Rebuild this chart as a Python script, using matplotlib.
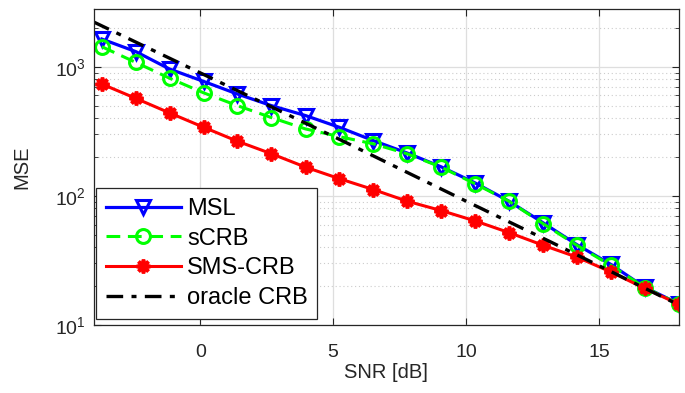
import matplotlib
matplotlib.use('Agg')
import matplotlib.pyplot as plt
from matplotlib.ticker import LogLocator, NullFormatter

plt.rcParams['font.family'] = ['Liberation Sans', 'DejaVu Sans']
plt.rcParams['mathtext.default'] = 'regular'

# SNR grid of the estimator / bound curves (dB)
snr = [-3.7, -2.42, -1.15, 0.13, 1.4, 2.68, 3.96, 5.23, 6.51,
       7.78, 9.06, 10.34, 11.61, 12.89, 14.16, 15.44, 16.72, 18.0]

msl = [1640, 1310, 960, 770, 615, 500, 419, 340, 268,
       215, 168, 126, 91, 62, 42, 29.5, 19.6, 14.6]
scrb = [1430, 1080, 815, 628, 500, 404, 330, 288, 253,
        212, 167, 124, 91, 61, 41.5, 29, 19.5, 14.6]
smscrb = [735, 569, 439, 340, 265, 212, 167, 136, 112,
          91, 77, 64, 52, 41.5, 33.6, 25.8, 19.2, 14.5]

# oracle CRB, read at a few points along the line
snr_oracle = [-4.0, 5.27, 10.0, 13.18, 18.0]
oracle = [2220, 272, 91, 44, 14.3]

fig = plt.figure(figsize=(6.85, 3.93), dpi=100)
ax = fig.add_axes([0.137, 0.173, 0.854, 0.804])

ax.plot(snr, msl, '-', color='blue', lw=2.3, marker='v', ms=10.5,
        mfc='none', mew=2.2, label='MSL')
ax.plot(snr, scrb, '--', color=(0, 1, 0), lw=2.2, marker='o', ms=10,
        mfc='none', mew=2.2, label='sCRB', dashes=(4.5, 2.5))
ax.plot(snr, smscrb, '-', color='red', lw=2.2, marker=(8, 2, 0), ms=10,
        mew=2.6, label='SMS-CRB')
ax.plot(snr_oracle, oracle, '-.', color='black', lw=2.4, label='oracle CRB',
        dashes=(5, 2.5, 1.5, 2.5))

ax.set_yscale('log')
ax.set_xlim(-4, 18)
ax.set_ylim(10, 2800)
ax.set_xticks([0, 5, 10, 15])
ax.yaxis.set_major_locator(LogLocator(base=10, numticks=10))
ax.yaxis.set_minor_locator(LogLocator(base=10, subs=range(2, 10), numticks=10))
ax.yaxis.set_minor_formatter(NullFormatter())

ax.grid(True, which='major', color='0.87', lw=0.9, ls='-')
ax.grid(True, which='minor', axis='y', color='0.8', lw=0.8, ls=(0, (1, 2.5)))
ax.set_axisbelow(True)

ax.tick_params(which='both', direction='in', top=True, right=True,
               colors='0.15', labelsize=14)
ax.tick_params(which='major', length=5)
ax.tick_params(which='minor', length=3)
ax.tick_params(axis='x', which='major', pad=14)
ax.tick_params(axis='y', which='major', pad=6)
for s in ax.spines.values():
    s.set_color('0.15')
    s.set_linewidth(0.9)

ax.set_xlabel('SNR [dB]', fontsize=14.5, color='0.15', labelpad=1)
ax.set_ylabel('MSE', fontsize=14.5, color='0.15', labelpad=17)

leg = ax.legend(loc='lower left', bbox_to_anchor=(0.004, 0.02), fontsize=17,
                handlelength=3.2, handletextpad=0.25, borderpad=0.4,
                labelspacing=0.33, fancybox=False, framealpha=1,
                edgecolor='0.15', borderaxespad=0)
leg.get_frame().set_linewidth(0.9)

fig.savefig('out.png', dpi=100)
